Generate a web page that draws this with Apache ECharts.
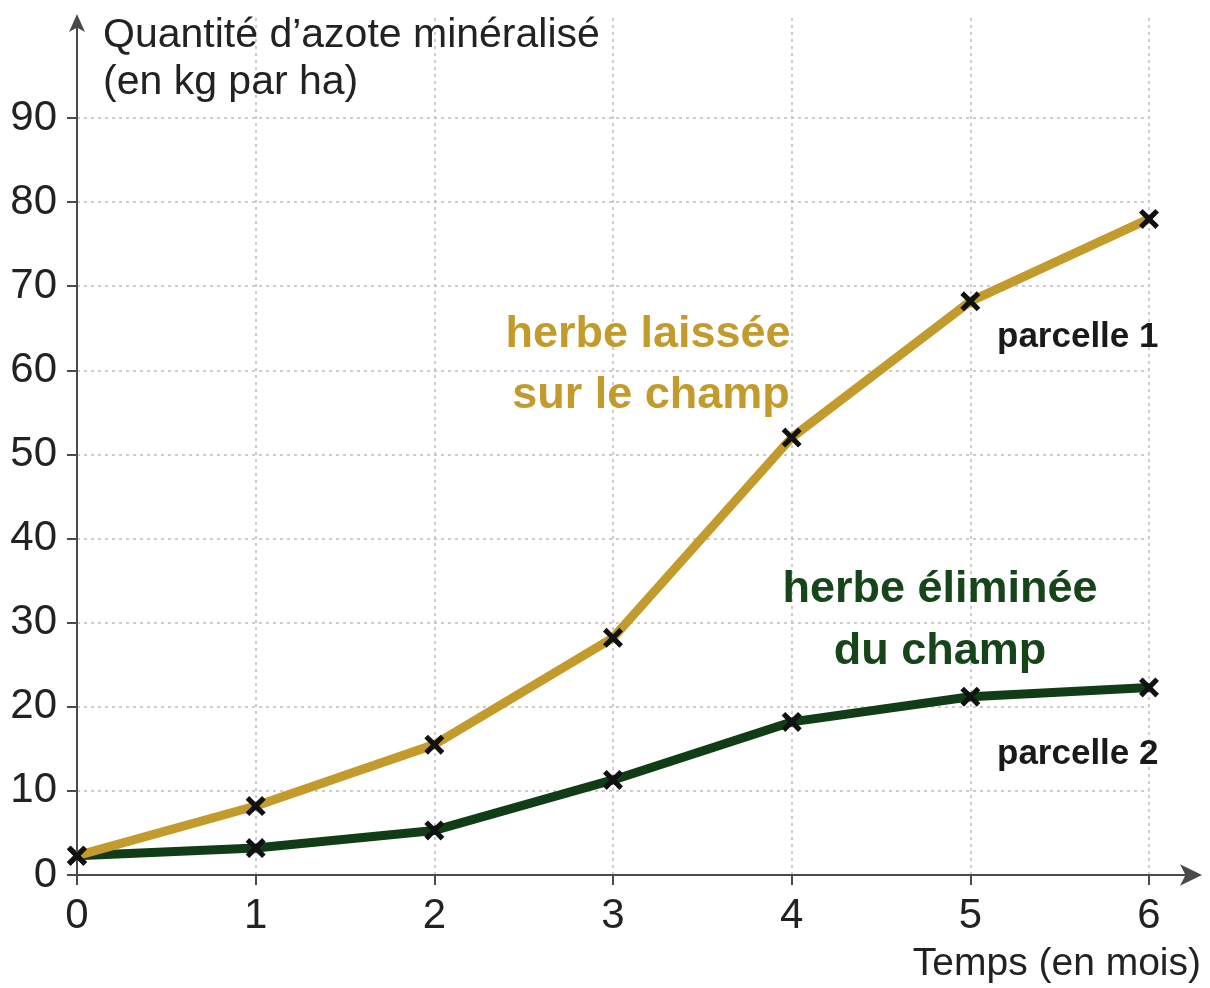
<!DOCTYPE html>
<html><head><meta charset="utf-8">
<script src="https://cdn.jsdelivr.net/npm/echarts@6/dist/echarts.min.js"></script>
<style>html,body{margin:0;padding:0;background:#fff}#c{width:1210px;height:988px}</style>
</head><body><div id="c"></div>
<script>
const months = [0, 1, 2, 3, 4, 5, 6];
const parcelle1 = [2.3, 8.2, 15.5, 28.2, 52, 68.2, 78];
const parcelle2 = [2.3, 3.2, 5.3, 11.3, 18.2, 21.2, 22.3];
const yTickStep = 10;
const yMax = 90;
const xMax = 6;

const yTitle = ['Quantité d’azote minéralisé', '(en kg par ha)'];
const xTitle = 'Temps (en mois)';
const note1 = ['herbe laissée', 'sur le champ'];
const note2 = ['herbe éliminée', 'du champ'];
const plotNames = ['parcelle 1', 'parcelle 2'];

const FONT = '"Liberation Sans", Arial, sans-serif';
const axisCol = '#4a4a4a';
const gold = '#c29b2c';
const green = '#113d16';
const crossPath = 'path://M0,1.8 L1.8,0 L5,3.2 L8.2,0 L10,1.8 L6.8,5 L10,8.2 L8.2,10 L5,6.8 L1.8,10 L0,8.2 L3.2,5 Z';

const toPairs = arr => months.map((m, i) => [m, arr[i]]);

const chart = echarts.init(document.getElementById('c'), null, {renderer: 'canvas'});
chart.setOption({
  backgroundColor: '#fff',
  animation: false,
  grid: [
    {left: 77, right: 61, top: 118, bottom: 113},
    {left: 77, right: 61, top: 18, bottom: 113},
    {left: 77, right: 12, top: 118, bottom: 113}
  ],
  xAxis: [
    {
      gridIndex: 0, type: 'value', min: 0, max: xMax, interval: 1,
      axisLine: {show: false},
      axisTick: {show: true, length: 10, lineStyle: {color: axisCol, width: 2}},
      axisLabel: {fontFamily: FONT, fontSize: 42, color: '#222', margin: 20},
      splitLine: {show: false}
    },
    {
      gridIndex: 1, type: 'value', min: 0, max: xMax, interval: 1,
      axisLine: {show: false}, axisTick: {show: false}, axisLabel: {show: false},
      splitLine: {show: true, showMinLine: false, lineStyle: {color: '#bdbdbd', type: [3, 4], width: 1.5}}
    },
    {
      gridIndex: 2, type: 'value', min: 0, max: 1,
      axisLine: {show: true, symbol: ['none', 'arrow'], symbolSize: [16, 22], symbolOffset: [0, 4], lineStyle: {color: axisCol, width: 2}},
      axisTick: {show: false}, axisLabel: {show: false}, splitLine: {show: false}
    }
  ],
  yAxis: [
    {
      gridIndex: 0, type: 'value', min: 0, max: yMax, interval: yTickStep,
      axisLine: {show: false},
      axisTick: {show: true, length: 10, lineStyle: {color: axisCol, width: 2}},
      axisLabel: {fontFamily: FONT, fontSize: 42, color: '#222', margin: 20},
      splitLine: {show: true, showMinLine: false, lineStyle: {color: '#bdbdbd', type: [3, 4], width: 1.5}}
    },
    {
      gridIndex: 1, type: 'value', min: 0, max: 1,
      axisLine: {show: true, symbol: ['none', 'arrow'], symbolSize: [12, 18], symbolOffset: [0, 4], lineStyle: {color: axisCol, width: 2}},
      axisTick: {show: false}, axisLabel: {show: false}, splitLine: {show: false}
    },
    {
      gridIndex: 2, type: 'value', min: 0, max: 1, show: false
    }
  ],
  series: [
    {
      name: plotNames[1], type: 'line', xAxisIndex: 0, yAxisIndex: 0,
      data: toPairs(parcelle2),
      lineStyle: {color: green, width: 9},
      symbol: crossPath, symbolSize: 20, showAllSymbol: true,
      itemStyle: {color: '#111'}, z: 3
    },
    {
      name: plotNames[0], type: 'line', xAxisIndex: 0, yAxisIndex: 0,
      data: toPairs(parcelle1),
      lineStyle: {color: gold, width: 9},
      symbol: crossPath, symbolSize: 20, showAllSymbol: true,
      itemStyle: {color: '#111'}, z: 4
    }
  ],
  graphic: [
    {type: 'text', z: 100, x: 103, y: 36, style: {text: yTitle[0], font: '41px ' + FONT, fill: '#222', align: 'left', verticalAlign: 'middle'}},
    {type: 'text', z: 100, x: 103, y: 83, style: {text: yTitle[1], font: '41px ' + FONT, fill: '#222', align: 'left', verticalAlign: 'middle'}},
    {type: 'text', z: 100, x: 1201, y: 964, style: {text: xTitle, font: '39px ' + FONT, fill: '#222', align: 'right', verticalAlign: 'middle'}},
    {type: 'text', z: 100, x: 648, y: 335, style: {text: note1[0], font: 'bold 45px ' + FONT, fill: gold, align: 'center', verticalAlign: 'middle'}},
    {type: 'text', z: 100, x: 651, y: 396, style: {text: note1[1], font: 'bold 45px ' + FONT, fill: gold, align: 'center', verticalAlign: 'middle'}},
    {type: 'text', z: 100, x: 940, y: 590, style: {text: note2[0], font: 'bold 45px ' + FONT, fill: '#16451a', align: 'center', verticalAlign: 'middle'}},
    {type: 'text', z: 100, x: 940, y: 652, style: {text: note2[1], font: 'bold 45px ' + FONT, fill: '#16451a', align: 'center', verticalAlign: 'middle'}},
    {type: 'text', z: 100, x: 997, y: 337, style: {text: plotNames[0], font: 'bold 35px ' + FONT, fill: '#1a1a1a', align: 'left', verticalAlign: 'middle'}},
    {type: 'text', z: 100, x: 997, y: 754, style: {text: plotNames[1], font: 'bold 35px ' + FONT, fill: '#1a1a1a', align: 'left', verticalAlign: 'middle'}}
  ]
});
</script>
</body></html>
